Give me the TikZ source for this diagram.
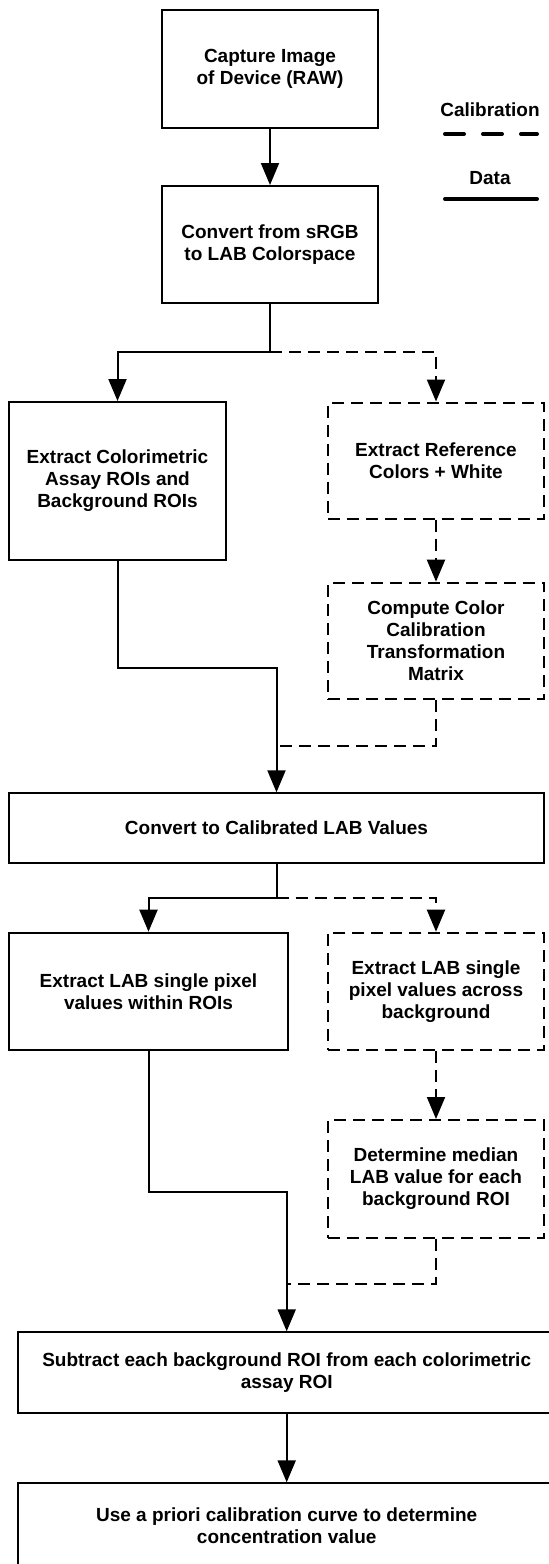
\documentclass[tikz,border=0pt]{standalone}
\usepackage{fontspec}
\setmainfont{Liberation Sans}
\usetikzlibrary{arrows.meta}
\begin{document}
\begin{tikzpicture}[x=0.5pt,y=-0.5pt,
  box/.style={draw=black, line width=1pt, fill=white, align=center,
    font=\fontsize{9.5}{11}\selectfont\bfseries, inner sep=0pt},
  calbox/.style={box, dash pattern=on 6pt off 3.5pt},
  conn/.style={draw=black, line width=1pt, -{Triangle[width=9pt,length=11pt]}},
  dline/.style={draw=black, line width=1pt, dash pattern=on 6pt off 3.5pt},
  legtext/.style={font=\fontsize{9.5}{11}\selectfont\bfseries, inner sep=0pt},
  legline/.style={line width=2pt, line cap=round}]
\useasboundingbox (0,0) rectangle (549,1564);
\clip (0,0) rectangle (549,1564);
\fill[white] (0,0) rectangle (549,1564);

% boxes
\node[box, minimum width=108pt, minimum height=59pt] (b1) at (270,69) {Capture Image\\of Device (RAW)};
\node[box, minimum width=108pt, minimum height=58.5pt] (b2) at (270,244.5) {Convert from sRGB\\to LAB Colorspace};
\node[box, minimum width=108.5pt, minimum height=79pt] (b3) at (117.5,481) {Extract Colorimetric\\Assay ROIs and\\Background ROIs};
\node[calbox, minimum width=108pt, minimum height=58pt] (b4) at (436,460.5) {Extract Reference\\Colors + White};
\node[calbox, minimum width=108pt, minimum height=58.3pt] (b5) at (436,641) {Compute Color\\Calibration\\Transformation\\Matrix};
\node[box, minimum width=267.5pt, minimum height=34.7pt] (b6) at (276.5,828) {Convert to Calibrated LAB Values};
\node[box, minimum width=139.5pt, minimum height=58.7pt] (b7) at (148.5,991.4) {Extract LAB single pixel\\values within ROIs};
\node[calbox, minimum width=108pt, minimum height=58.7pt] (b8) at (436,991.4) {Extract LAB single\\pixel values across\\background};
\node[calbox, minimum width=108pt, minimum height=58.8pt] (b9) at (436,1178.8) {Determine median\\LAB value for each\\background ROI};
\node[box, minimum width=268.4pt, minimum height=40.5pt] (b10) at (286.7,1372.8) {Subtract each background ROI from each colorimetric\\assay ROI};
\node[box, minimum width=268.4pt, minimum height=41.9pt] (b11) at (286.7,1525.2) {Use a priori calibration curve to determine\\concentration value};

% junction coordinates
\coordinate (j1) at (270,352);
\coordinate (j2) at (276.5,746);
\coordinate (j3) at (276.5,898);
\coordinate (j4) at (286.7,1284);

% dashed (calibration) connectors
\draw[dline, -{Triangle[width=9pt,length=11pt]}] (j1) -| (b4.north);
\draw[dline, -{Triangle[width=9pt,length=11pt]}] (b4.south) -- (b5.north);
\draw[dline] (b5.south) |- (j2);
\draw[dline, -{Triangle[width=9pt,length=11pt]}] (j3) -| (b8.north);
\draw[dline, -{Triangle[width=9pt,length=11pt]}] (b8.south) -- (b9.north);
\draw[dline] (b9.south) |- (j4);

% solid (data) connectors
\draw[conn] (b1.south) -- (b2.north);
\draw[conn] (b2.south) -- (j1) -| (b3.north);
\draw[conn] (b3.south) -- ++(0,107) -| (b6.north);
\draw[conn] (b6.south) -- (j3) -| (b7.north);
\draw[conn] (b7.south) -- ++(0,141) -| (b10.north);
\draw[conn] (b10.south) -- (b11.north);

% legend
\node[legtext] (lcal) at (490,110) {Calibration};
\node[legtext] (ldat) at (490,178) {Data};
\coordinate (lc1) at (445,134);
\coordinate (lc2) at (537,134);
\coordinate (ld1) at (445,199);
\coordinate (ld2) at (537,199);
\draw[legline, dash pattern=on 9.5pt off 9.5pt] (lc1) -- (lc2);
\draw[legline] (ld1) -- (ld2);
\end{tikzpicture}
\end{document}
